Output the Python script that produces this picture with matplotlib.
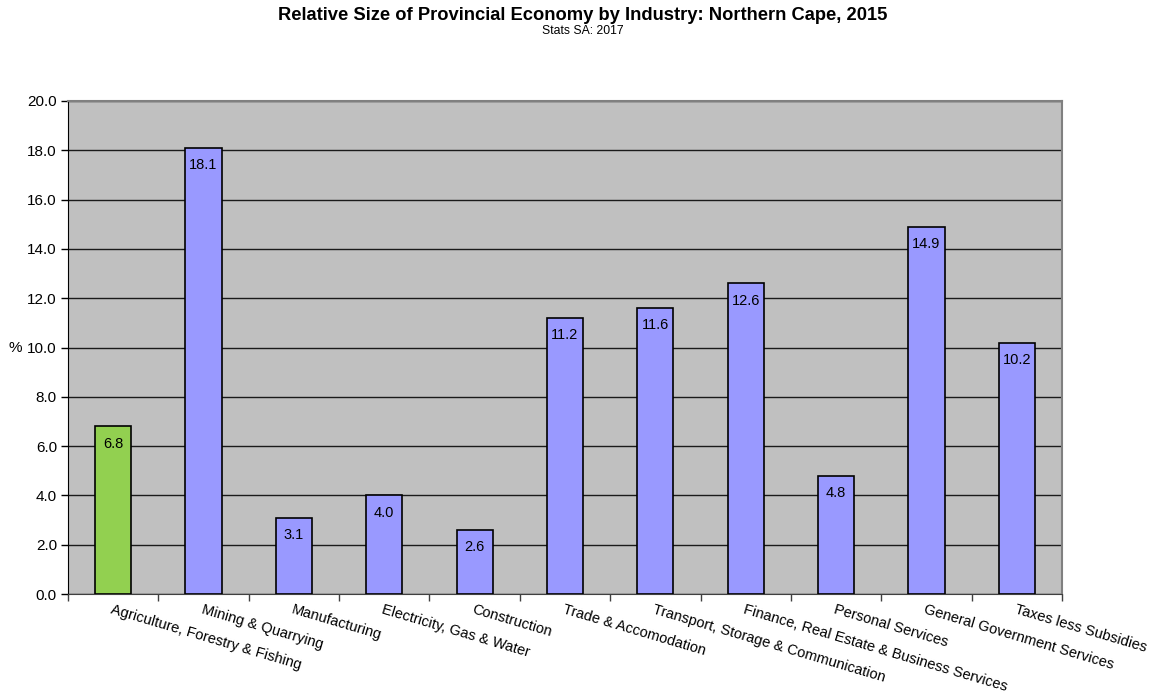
import numpy as np
import matplotlib.pyplot as plt

plt.rcParams['font.family'] = ['Liberation Sans', 'DejaVu Sans']

industries = ['Agriculture, Forestry & Fishing', 'Mining & Quarrying', 'Manufacturing',
              'Electricity, Gas & Water', 'Construction', 'Trade & Accomodation',
              'Transport, Storage & Communication', 'Finance, Real Estate & Business Services',
              'Personal Services', 'General Government Services', 'Taxes less Subsidies']
share = [6.8, 18.1, 3.1, 4.0, 2.6, 11.2, 11.6, 12.6, 4.8, 14.9, 10.2]
yticks = [0, 2, 4, 6, 8, 10, 12, 14, 16, 18, 20]

fig = plt.figure(figsize=(11.65, 6.93), dpi=100)
ax = fig.add_axes([68/1165, 1-594/693, (1062-68)/1165, (594-101)/693])
ax.set_facecolor('#C0C0C0')

x = np.arange(len(industries))
colors = ['#92D050'] + ['#9999FF'] * (len(industries) - 1)
ax.bar(x, share, width=0.4, color=colors, edgecolor='black', linewidth=1.2, zorder=3)
for xi, v in zip(x, share):
    ax.text(xi, v - 0.42, f'{v:.1f}', ha='center', va='top', fontsize=10.5, zorder=4)

ax.set_xlim(-0.5, len(industries) - 0.5)
ax.set_ylim(0, 20)
ax.set_yticks(yticks)
ax.set_yticklabels([f'{t:.1f}' for t in yticks], fontsize=11)
ax.yaxis.grid(True, color='#1a1a1a', linewidth=1, zorder=1)
ax.set_axisbelow(True)
ax.tick_params(axis='y', direction='out', length=5, width=1, pad=3)

# category boundary ticks, labels placed separately
ax.set_xticks(np.arange(len(industries) + 1) - 0.5)
ax.set_xticklabels([])
ax.tick_params(axis='x', direction='out', length=5, width=1, color='#404040')
for xi, name in zip(x, industries):
    ax.text(xi, -0.36, name, rotation=-16.5, rotation_mode='anchor', ha='left', va='top',
            fontsize=10.5, transform=ax.transData, clip_on=False)

for side in ['top', 'right']:
    ax.spines[side].set_color('#808080')
    ax.spines[side].set_linewidth(1.5)
ax.spines['left'].set_color('black')
ax.spines['bottom'].set_color('#404040')

ax.set_ylabel('%', rotation=0, fontsize=11, va='center', ha='left')
ax.yaxis.set_label_coords(-0.06, 0.5)

fig.text(0.5, 1-16/693, 'Relative Size of Provincial Economy by Industry: Northern Cape, 2015',
         ha='center', va='center', fontsize=13.2, fontweight='bold')
fig.text(0.5, 1-31/693, 'Stats SA: 2017', ha='center', va='center', fontsize=8.8)

fig.savefig('out.png', dpi=100)
